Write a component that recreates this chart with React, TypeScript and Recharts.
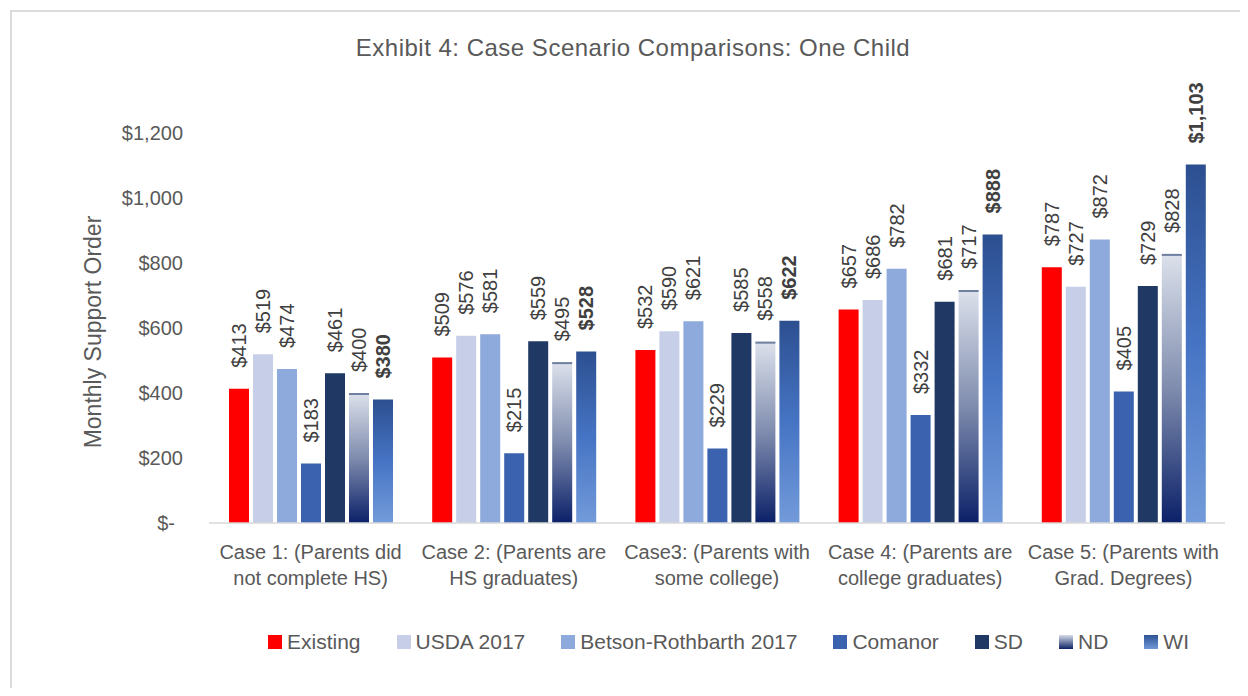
import { BarChart, Bar, XAxis, YAxis, LabelList } from 'recharts';

const categories = [
  'Case 1: (Parents did|not complete HS)',
  'Case 2: (Parents are|HS graduates)',
  'Case3: (Parents with|some college)',
  'Case 4: (Parents are|college graduates)',
  'Case 5: (Parents with|Grad. Degrees)',
];

const existing = [413, 509, 532, 657, 787];
const usda = [519, 576, 590, 686, 727];
const betson = [474, 581, 621, 782, 872];
const comanor = [183, 215, 229, 332, 405];
const sd = [461, 559, 585, 681, 729];
const nd = [400, 495, 558, 717, 828];
const wi = [380, 528, 622, 888, 1103];

const yTicks = [0, 200, 400, 600, 800, 1000, 1200];

const series = [
  { key: 'existing', name: 'Existing', fill: '#FF0000', values: existing },
  { key: 'usda', name: 'USDA 2017', fill: '#C7CFE8', values: usda },
  { key: 'betson', name: 'Betson-Rothbarth 2017', fill: '#8EA9DB', values: betson },
  { key: 'comanor', name: 'Comanor', fill: '#3A62AE', values: comanor },
  { key: 'sd', name: 'SD', fill: '#203864', values: sd },
  { key: 'nd', name: 'ND', fill: 'url(#ndGrad)', values: nd },
  { key: 'wi', name: 'WI', fill: 'url(#wiGrad)', values: wi },
];

const legendSwatch: Record<string, string> = {
  existing: '#FF0000',
  usda: '#C7CFE8',
  betson: '#8EA9DB',
  comanor: '#3A62AE',
  sd: '#203864',
  nd: 'linear-gradient(#D6DCE8, #0E2366)',
  wi: 'linear-gradient(#2E5395, #6F97D8)',
};

const data = categories.map((name, i) => {
  const row: Record<string, string | number> = { name };
  series.forEach((s) => {
    row[s.key] = s.values[i];
  });
  return row;
});

const FONT = '"Liberation Sans", Arial, sans-serif';
const TEXT = '#595959';

const money = (v: number) => '$' + Number(v).toLocaleString('en-US');

const makeLabel = (bold: boolean) => (props: any) => {
  const { x, y, width, value } = props;
  const cx = Number(x) + Number(width) / 2;
  const ty = Number(y) - 21;
  return (
    <text
      x={cx}
      y={ty}
      transform={`rotate(-90 ${cx} ${ty})`}
      textAnchor="start"
      dominantBaseline="central"
      fontSize={20}
      fontFamily={FONT}
      fontWeight={bold ? 700 : 400}
      fill="#404040"
    >
      {money(value)}
    </text>
  );
};

const NdShape = (props: any) => {
  const { x, y, width, height } = props;
  return (
    <g>
      <rect x={x} y={y} width={width} height={height} fill="url(#ndGrad)" />
      <line x1={x} x2={x + width} y1={y + 1} y2={y + 1} stroke="#6F7FA0" strokeWidth={2} />
    </g>
  );
};

const CategoryTick = (props: any) => {
  const { x, y, payload } = props;
  const lines = String(payload.value).split('|');
  return (
    <text x={x} y={y} textAnchor="middle" fontSize={20} fontFamily={FONT} fill={TEXT}>
      {lines.map((l, i) => (
        <tspan key={i} x={x} dy={i === 0 ? 28 : 26}>
          {l}
        </tspan>
      ))}
    </text>
  );
};

const ValueTick = (props: any) => {
  const { x, y, payload } = props;
  const v = payload.value;
  return (
    <text
      x={v === 0 ? x - 8 : x}
      y={y}
      textAnchor="end"
      dominantBaseline="central"
      fontSize={20}
      fontFamily={FONT}
      fill={TEXT}
    >
      {v === 0 ? '$-' : money(v)}
    </text>
  );
};

export default function App() {
  return (
    <div style={{ position: 'relative', width: 1248, height: 696, margin: -8, background: '#fff', overflow: 'hidden' }}>
      <div
        style={{
          position: 'absolute',
          left: 10,
          top: 10,
          width: 1248,
          height: 696,
          borderTop: '2px solid #DCDCDC',
          borderLeft: '2px solid #DCDCDC',
        }}
      />
      <div
        style={{
          position: 'absolute',
          left: 633,
          top: 34,
          transform: 'translateX(-50%)',
          whiteSpace: 'nowrap',
          fontFamily: FONT,
          fontSize: 24,
          letterSpacing: 0.5,
          color: TEXT,
        }}
      >
        Exhibit 4: Case Scenario Comparisons: One Child
      </div>
      <div
        style={{
          position: 'absolute',
          left: 93,
          top: 332,
          transform: 'translate(-50%, -50%) rotate(-90deg)',
          whiteSpace: 'nowrap',
          fontFamily: FONT,
          fontSize: 23,
          color: TEXT,
        }}
      >
        Monthly Support Order
      </div>
      <div style={{ position: 'absolute', left: 0, top: 0 }}>
        <BarChart
          width={1248}
          height={696}
          data={data}
          margin={{ top: 133, right: 23, bottom: 143, left: 0 }}
          barSize={20}
          barGap={4}
        >
          <defs>
            <linearGradient id="ndGrad" x1="0" y1="0" x2="0" y2="1">
              <stop offset="0%" stopColor="#DCE1EB" />
              <stop offset="50%" stopColor="#7F8CAE" />
              <stop offset="100%" stopColor="#0B2068" />
            </linearGradient>
            <linearGradient id="wiGrad" x1="0" y1="0" x2="0" y2="1">
              <stop offset="0%" stopColor="#2C4F90" />
              <stop offset="50%" stopColor="#4674C4" />
              <stop offset="100%" stopColor="#739BDA" />
            </linearGradient>
          </defs>
          <XAxis
            dataKey="name"
            height={30}
            axisLine={{ stroke: '#D9D9D9', strokeWidth: 1.5 }}
            tickLine={false}
            tick={<CategoryTick />}
            interval={0}
          />
          <YAxis
            width={209}
            domain={[0, 1200]}
            ticks={yTicks}
            axisLine={false}
            tickLine={false}
            tick={<ValueTick />}
            tickMargin={20}
          />
          {series.map((s) => (
            <Bar
              key={s.key}
              dataKey={s.key}
              name={s.name}
              fill={s.fill}
              isAnimationActive={false}
              shape={s.key === 'nd' ? NdShape : undefined}
            >
              <LabelList dataKey={s.key} content={makeLabel(s.key === 'wi')} />
            </Bar>
          ))}
        </BarChart>
      </div>
      <div
        style={{
          position: 'absolute',
          left: 268,
          top: 629,
          display: 'flex',
          gap: 36,
          fontFamily: FONT,
          fontSize: 21,
          lineHeight: '26px',
          color: TEXT,
          whiteSpace: 'nowrap',
        }}
      >
        {series.map((s) => (
          <div key={s.key} style={{ display: 'flex', alignItems: 'center', gap: 5 }}>
            <span style={{ display: 'inline-block', width: 14, height: 14, background: legendSwatch[s.key] }} />
            <span>{s.name}</span>
          </div>
        ))}
      </div>
    </div>
  );
}
